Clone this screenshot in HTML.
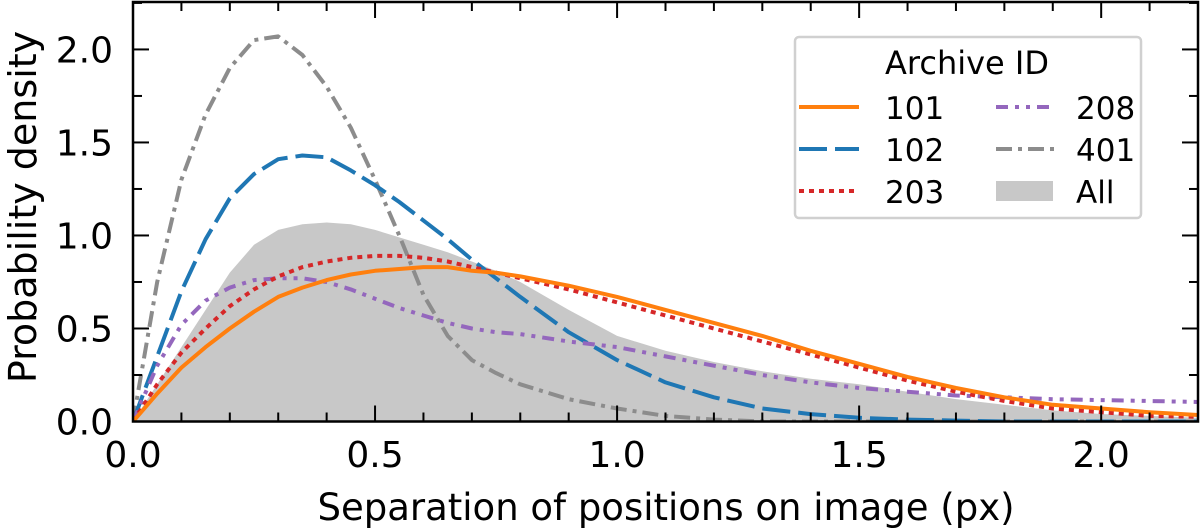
<!DOCTYPE html>
<html><head><meta charset="utf-8"><style>
html,body{margin:0;padding:0;background:#fff;}
svg{display:block;font-family:"DejaVu Sans","Liberation Sans",sans-serif;}
</style></head><body>
<svg id="chart" width="1200" height="532">
<g id="plot"></g>
<text x="666" y="520" font-size="37" text-anchor="middle">Separation of positions on image (px)</text>
<text x="0" y="0" font-size="38" text-anchor="middle" transform="translate(36,207) rotate(-90)">Probability density</text>
</svg>
<script>
const xs = [0,0.05,0.1,0.15,0.2,0.25,0.3,0.35,0.4,0.45,0.5,0.55,0.6,0.65,0.7,0.75,0.8,0.9,1.0,1.1,1.2,1.3,1.4,1.5,1.6,1.7,1.8,1.9,2.0,2.1,2.2];
const s101 = [0,0.15,0.29,0.4,0.5,0.59,0.67,0.72,0.76,0.79,0.81,0.82,0.83,0.83,0.81,0.8,0.78,0.73,0.67,0.6,0.53,0.46,0.38,0.31,0.24,0.18,0.13,0.09,0.07,0.05,0.035];
const s102 = [0,0.35,0.7,0.98,1.2,1.33,1.41,1.43,1.42,1.35,1.27,1.18,1.08,0.98,0.87,0.77,0.67,0.48,0.33,0.21,0.13,0.07,0.04,0.02,0.01,0.005,0,0,0,0,0];
const s203 = [0,0.2,0.37,0.5,0.62,0.71,0.78,0.83,0.86,0.88,0.89,0.89,0.88,0.86,0.83,0.8,0.77,0.71,0.64,0.57,0.5,0.43,0.36,0.29,0.22,0.16,0.11,0.07,0.05,0.03,0.025];
const s208 = [0,0.3,0.52,0.65,0.72,0.76,0.77,0.77,0.75,0.71,0.66,0.61,0.57,0.53,0.5,0.48,0.47,0.43,0.4,0.35,0.3,0.25,0.21,0.18,0.16,0.14,0.13,0.12,0.115,0.11,0.105];
const s401 = [0,0.75,1.3,1.65,1.9,2.05,2.07,1.97,1.8,1.58,1.3,1.0,0.68,0.46,0.33,0.26,0.2,0.12,0.07,0.03,0.01,0,0,0,0,0,0,0,0,0,0];
const sAll = [0,0.2,0.4,0.6,0.8,0.95,1.03,1.06,1.07,1.06,1.03,0.99,0.95,0.91,0.86,0.81,0.75,0.6,0.46,0.38,0.32,0.27,0.23,0.2,0.16,0.12,0.09,0.06,0.04,0.03,0.02];
const xTicks = [0,0.5,1.0,1.5,2.0];
const xTickLabels = ["0.0","0.5","1.0","1.5","2.0"];
const yTicks = [0,0.5,1.0,1.5,2.0];
const yTickLabels = ["0.0","0.5","1.0","1.5","2.0"];

const L=133,R=1198,T=2,B=421.5,XMAX=2.2,YMAX=2.255;
const X=v=>L+v/XMAX*(R-L);
const Y=v=>B-v/YMAX*(B-T);
const NS="http://www.w3.org/2000/svg";
const svg=document.getElementById('chart');
const plot=document.getElementById('plot');
function mk(tag,attrs,parent){const e=document.createElementNS(NS,tag);for(const k in attrs)e.setAttribute(k,attrs[k]);(parent||svg).appendChild(e);return e;}
const defs=mk('defs',{});
const clip=mk('clipPath',{id:'clp'},defs);mk('rect',{x:L,y:T,width:R-L,height:B-T},clip);
plot.setAttribute('clip-path','url(#clp)');

let d='M'+X(xs[0])+','+Y(0);
xs.forEach((x,i)=>{d+=' L'+X(x)+','+Y(sAll[i]);});
d+=' L'+X(xs[xs.length-1])+','+Y(0)+' Z';
const fillEl=mk('path',{d:d,fill:'#c8c8c8'},plot);



function line(vals,color,dash,name){
  let p='';xs.forEach((x,i)=>{p+=(i?' L':'M')+X(x).toFixed(1)+','+Y(vals[i]).toFixed(1);});
  const el=mk('path',{d:p,fill:'none',stroke:color,'stroke-width':4,'stroke-dasharray':dash,'stroke-linejoin':'round'},plot);
  
  
}
line(s401,'#8c8c8c','16 6 4 6','line-401');
line(s102,'#1f77b4','28 8','line-102');
line(s208,'#9467bd','12 7 4 7 4 7','line-208');
line(s203,'#d62728','5 5','line-203');
line(s101,'#ff7f0e','none','line-101');

const fr=mk('rect',{x:L,y:T,width:R-L,height:B-T,fill:'none',stroke:'#000','stroke-width':2.5});



for(let v=0;v<=2.2001;v+=0.1){
  const major=Math.abs(v*2-Math.round(v*2))<1e-6;const len=major?16:9;const x=X(v);
  mk('line',{x1:x,x2:x,y1:B,y2:B-len,stroke:'#000','stroke-width':2});
  mk('line',{x1:x,x2:x,y1:T,y2:T+len,stroke:'#000','stroke-width':2});
}
for(let v=0;v<=2.2501;v+=0.25){
  const major=Math.abs(v*2-Math.round(v*2))<1e-6;const len=major?16:9;const y=Y(v);
  mk('line',{x1:L,x2:L+len,y1:y,y2:y,stroke:'#000','stroke-width':2});
  mk('line',{x1:R,x2:R-len,y1:y,y2:y,stroke:'#000','stroke-width':2});
}
xTicks.forEach((v,i)=>{const t=mk('text',{x:X(v),y:467,'font-size':36,'text-anchor':'middle'});t.textContent=xTickLabels[i];
  
  });
yTicks.forEach((v,i)=>{const t=mk('text',{x:L-20,y:Y(v)+13,'font-size':36,'text-anchor':'end'});t.textContent=yTickLabels[i];
  
  });

const lg=mk('g',{});


mk('rect',{x:795,y:37,width:346,height:181,rx:4,fill:'rgba(255,255,255,0.85)',stroke:'#d0d0d0','stroke-width':2.5},lg);
const lt=mk('text',{x:967,y:74,'font-size':32,'text-anchor':'middle'},lg);lt.textContent='Archive ID';
const entries=[
 ['101','#ff7f0e','none',0,0,'line'],['102','#1f77b4','28 8',0,1,'line'],['203','#d62728','5 5',0,2,'line'],
 ['208','#9467bd','12 7 4 7 4 7',1,0,'line'],['401','#8c8c8c','16 6 4 6',1,1,'line'],['All','#c8c8c8','',1,2,'fill']];
entries.forEach(e=>{
  const g=mk('g',{},lg);
  
  
  const x0=e[3]?996:799, tx=e[3]?1076:885, y=107+e[4]*42;
  if(e[5]==='fill') mk('rect',{x:x0,y:y-10,width:57,height:20,fill:e[1]},g);
  else mk('line',{x1:x0,x2:x0+60,y1:y,y2:y,stroke:e[1],'stroke-width':4,'stroke-dasharray':e[2]},g);
  const t=mk('text',{x:tx,y:y+12,'font-size':31},g);t.textContent=e[0];
});
</script>
</body></html>
